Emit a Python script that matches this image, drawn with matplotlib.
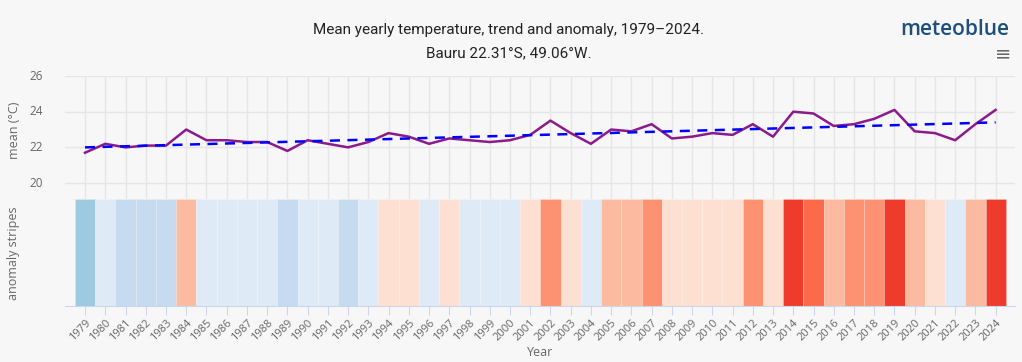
import matplotlib
matplotlib.use("Agg")
import matplotlib.pyplot as plt
from matplotlib import font_manager
from matplotlib.transforms import blended_transform_factory
import numpy as np

years = list(range(1979, 2025))
mean_temp = [21.7, 22.2, 22.0, 22.1, 22.1, 23.0, 22.4, 22.4, 22.3, 22.3,
             21.8, 22.4, 22.2, 22.0, 22.3, 22.8, 22.6, 22.2, 22.5, 22.4,
             22.3, 22.4, 22.7, 23.5, 22.8, 22.2, 23.0, 22.9, 23.3, 22.5,
             22.6, 22.8, 22.7, 23.3, 22.6, 24.0, 23.9, 23.2, 23.3, 23.6,
             24.1, 22.9, 22.8, 22.4, 23.3, 24.1]
trend_years = [1979, 2024]
trend_values = [22.0, 23.4]
# anomaly class per year (-3 .. +5)
anomaly_class = [-3, -1, -2, -2, -2, 2, -1, -1, -1, -1,
                 -2, -1, -1, -2, -1, 1, 1, -1, 1, -1,
                 -1, -1, 1, 3, 1, -1, 2, 2, 3, 1,
                 1, 1, 1, 3, 1, 5, 4, 2, 3, 3,
                 5, 2, 1, -1, 2, 5]
palette = {-3: "#9ecae1", -2: "#c6dbef", -1: "#deebf7",
           1: "#fee0d2", 2: "#fcbba1", 3: "#fc9272", 4: "#fb6a4a", 5: "#ef3b2c"}
yticks = [20, 22, 24, 26]

title = "Mean yearly temperature, trend and anomaly, 1979–2024."
subtitle = "Bauru 22.31°S, 49.06°W."

names = {f.name for f in font_manager.fontManager.ttflist}
title_font = ["Liberation Sans Narrow", "DejaVu Sans"] if "Liberation Sans Narrow" in names else ["Roboto", "DejaVu Sans"]
plt.rcParams["font.family"] = ["Open Sans", "DejaVu Sans"]

bg = "#f7f7f7"
grid_c = "#e6e6e6"
axis_c = "#ccd6eb"
label_c = "#666666"

fig = plt.figure(figsize=(10.22, 3.62), dpi=100, facecolor=bg)
xl = (1978.01, 2024.95)

ax = fig.add_axes([0.0636, 0.450, 0.9294, 0.340], facecolor=bg)
ax.set_xlim(*xl)
ax.set_ylim(19.1, 26)
ax.set_yticks(yticks)
ax.set_xticks(years)
ax.grid(True, color=grid_c, lw=1)
ax.set_axisbelow(True)
for s in ax.spines.values():
    s.set_visible(False)
ax.tick_params(axis="x", length=0, labelbottom=False)
ax.tick_params(axis="y", length=0, labelleft=False)
ytrans = blended_transform_factory(fig.transFigure, ax.transData)
for v in yticks:
    ax.text(43 / 1022, v, str(v), transform=ytrans, ha="right", va="center",
            fontsize=8.5, color=label_c)
ax.plot(years, mean_temp, color="#8b1a8b", lw=1.8, zorder=3)
ax.plot(trend_years, trend_values, color="#0000ff", lw=1.8, ls=(0, (4, 3)), zorder=4)

ax2 = fig.add_axes([0.0636, 0.155, 0.9294, 0.295], facecolor=bg)
ax2.set_xlim(*xl)
ax2.set_ylim(0, 1)
ax2.bar(years, [1] * len(years), width=1.0, bottom=0,
        color=[palette[c] for c in anomaly_class],
        edgecolor=(1, 1, 1, 0.2), linewidth=0.6)
for side in ["top", "right", "left"]:
    ax2.spines[side].set_visible(False)
ax2.spines["bottom"].set_color(axis_c)
ax2.set_yticks([])
ax2.set_xticks(years)
ax2.set_xticklabels([str(y) for y in years], rotation=45, ha="right",
                    rotation_mode="anchor", fontsize=8, color=label_c)
ax2.tick_params(axis="x", length=6.5, color=axis_c, pad=2)

fig.text(14 / 1022, 1 - 130 / 362, "mean (°C)", rotation=90, ha="center", va="center",
         color=label_c, fontsize=9)
fig.text(14 / 1022, 1 - 253 / 362, "anomaly stripes", rotation=90, ha="center", va="center",
         color=label_c, fontsize=9)
fig.text(540 / 1022, 1 - 352 / 362, "Year", ha="center", va="center",
         color=label_c, fontsize=9)

fig.text(0.498, 0.918, title, ha="center", va="center", fontsize=11,
         color="#222222", family=title_font)
fig.text(0.498, 0.852, subtitle, ha="center", va="center", fontsize=11,
         color="#222222", family=title_font)
fig.text(0.988, 0.918, "meteoblue", ha="right", va="center", fontsize=15,
         color="#1d4f7c", fontweight="semibold", family=["Open Sans", "DejaVu Sans"])
fig.text(0.982, 0.852, "≡", ha="center", va="center", fontsize=14,
         color="#666666", family=["DejaVu Sans"])

fig.savefig("out.png", dpi=100, facecolor=bg)
